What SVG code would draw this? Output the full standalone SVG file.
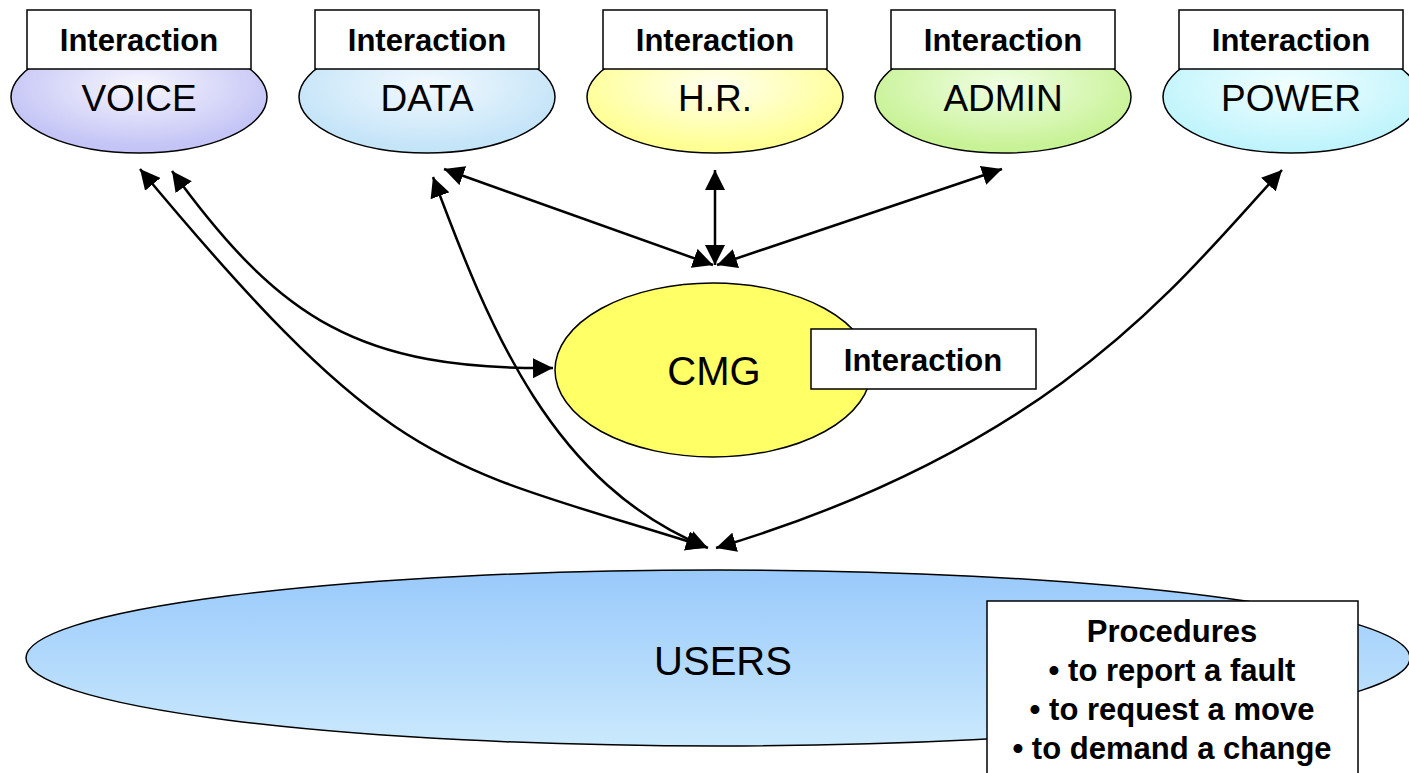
<svg xmlns="http://www.w3.org/2000/svg" width="1409" height="773" viewBox="0 0 1409 773">
<style>
.lbl{font-family:"Liberation Sans",Arial,sans-serif;font-size:37px;fill:#000;text-anchor:middle}
.big{font-family:"Liberation Sans",Arial,sans-serif;font-size:40px;fill:#000;text-anchor:middle}
.bold{font-family:"Liberation Sans",Arial,sans-serif;font-size:31px;font-weight:bold;fill:#000;text-anchor:middle}
.ell{stroke:#000;stroke-width:1.5}
.box{fill:#fff;stroke:#000;stroke-width:1.5}
.con{fill:none;stroke:#000;stroke-width:2.5;marker-end:url(#ah);marker-start:url(#ah)}
</style>
<defs>
<marker id="ah" markerUnits="userSpaceOnUse" markerWidth="22" markerHeight="20" refX="20" refY="10" orient="auto-start-reverse" viewBox="0 0 22 20">
<path d="M0,0 L20,10 L0,20 z" fill="#000"/>
</marker>
<radialGradient id="gV" cx="50%" cy="40%" r="55%"><stop offset="0" stop-color="#f6f6fe"/><stop offset="1" stop-color="#c4c4f6"/></radialGradient>
<radialGradient id="gD" cx="50%" cy="40%" r="55%"><stop offset="0" stop-color="#f2f9fe"/><stop offset="1" stop-color="#c4e4f8"/></radialGradient>
<radialGradient id="gH" cx="50%" cy="40%" r="55%"><stop offset="0" stop-color="#fffff0"/><stop offset="1" stop-color="#ffff94"/></radialGradient>
<radialGradient id="gA" cx="50%" cy="40%" r="55%"><stop offset="0" stop-color="#f0ffe4"/><stop offset="1" stop-color="#c8f296"/></radialGradient>
<radialGradient id="gP" cx="50%" cy="40%" r="55%"><stop offset="0" stop-color="#f2ffff"/><stop offset="1" stop-color="#c0f4fc"/></radialGradient>
<linearGradient id="gU" x1="0" y1="0" x2="0" y2="1"><stop offset="0" stop-color="#99c9fb"/><stop offset="1" stop-color="#cae9fd"/></linearGradient>
</defs>

<g id="voice">
<ellipse class="ell" cx="139" cy="97" rx="128" ry="56" fill="url(#gV)"/>
<rect class="box" x="27" y="10" width="224" height="59"/>
<text class="bold" x="139" y="51">Interaction</text>
<text class="lbl" x="139" y="111">VOICE</text>
</g>
<g id="data">
<ellipse class="ell" cx="427" cy="97" rx="128" ry="56" fill="url(#gD)"/>
<rect class="box" x="315" y="10" width="224" height="59"/>
<text class="bold" x="427" y="51">Interaction</text>
<text class="lbl" x="427" y="111">DATA</text>
</g>
<g id="hr">
<ellipse class="ell" cx="715" cy="97" rx="128" ry="56" fill="url(#gH)"/>
<rect class="box" x="603" y="10" width="224" height="59"/>
<text class="bold" x="715" y="51">Interaction</text>
<text class="lbl" x="715" y="111">H.R.</text>
</g>
<g id="admin">
<ellipse class="ell" cx="1003" cy="97" rx="128" ry="56" fill="url(#gA)"/>
<rect class="box" x="891" y="10" width="224" height="59"/>
<text class="bold" x="1003" y="51">Interaction</text>
<text class="lbl" x="1003" y="111">ADMIN</text>
</g>
<g id="power">
<ellipse class="ell" cx="1291" cy="97" rx="128" ry="56" fill="url(#gP)"/>
<rect class="box" x="1179" y="10" width="224" height="59"/>
<text class="bold" x="1291" y="51">Interaction</text>
<text class="lbl" x="1291" y="111">POWER</text>
</g>
<g id="cmg">
<ellipse class="ell" cx="713" cy="370" rx="158" ry="87" fill="#ffff66"/>
<text class="big" x="714" y="385">CMG</text>
<rect class="box" x="811" y="329" width="225" height="60"/>
<text class="bold" x="923" y="371">Interaction</text>
</g>
<g id="users">
<ellipse class="ell" cx="718" cy="658" rx="692" ry="88" fill="url(#gU)"/>
<text class="big" x="723" y="675">USERS</text>
<rect class="box" x="987" y="601" width="371" height="190"/>
<text class="bold" x="1172" y="642">Procedures</text>
<text class="bold" x="1172" y="681">• to report a fault</text>
<text class="bold" x="1172" y="720">• to request a move</text>
<text class="bold" x="1172" y="759">• to demand a change</text>
</g>

<g id="connectors">
<path class="con" d="M140,169 C396,477 440,463 706,547"/>
<path class="con" d="M172,171 C280,320 360,370 553,368"/>
<path class="con" d="M433,177 C490,330 552,485 708,548"/>
<path class="con" d="M444,169 L713,265"/>
<path class="con" d="M715,170 L715,265"/>
<path class="con" d="M1002,169 L717,265"/>
<path class="con" d="M1282,170 C1180,280 1060,445 716,548"/>
</g>
</svg>
